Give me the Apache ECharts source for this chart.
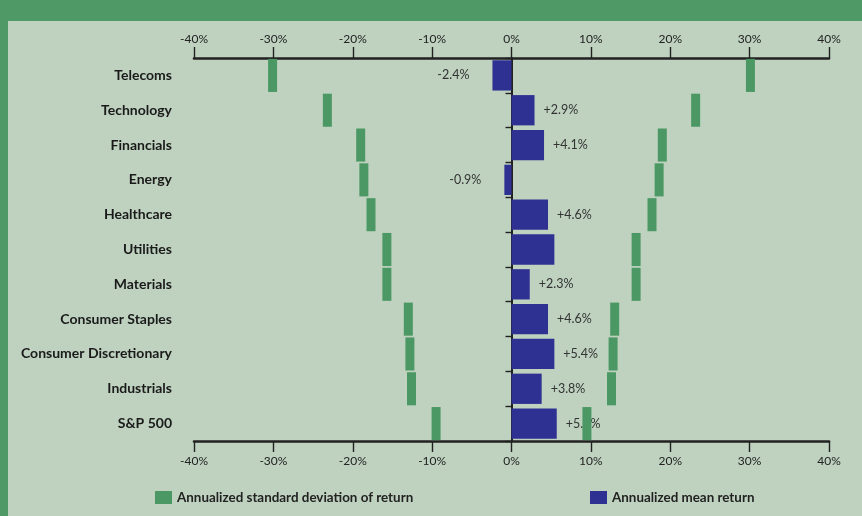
<!DOCTYPE html>
<html>
<head>
<meta charset="utf-8">
<script src="https://cdn.jsdelivr.net/npm/echarts@6/dist/echarts.min.js"></script>
<style>
  html, body { margin: 0; padding: 0; }
  #chart { width: 862px; height: 516px; }
</style>
</head>
<body>
<div id="chart"></div>
<script>
  // sectors, top to bottom
  const sectors = [
    'Telecoms', 'Technology', 'Financials', 'Energy', 'Healthcare', 'Utilities',
    'Materials', 'Consumer Staples', 'Consumer Discretionary', 'Industrials', 'S&P 500'
  ];
  // annualized mean return (%)
  const meanReturn = [-2.4, 2.9, 4.1, -0.9, 4.6, 5.4, 2.3, 4.6, 5.4, 3.8, 5.7];
  // text printed next to each blue bar ('' = none)
  const meanLabels = ['-2.4%', '+2.9%', '+4.1%', '-0.9%', '+4.6%', '', '+2.3%', '+4.6%', '+5.4%', '+3.8%', '+5.7%'];
  // annualized standard deviation of return (%), drawn at -sd and +sd
  const stdDev = [30.1, 23.2, 19.0, 18.6, 17.7, 15.7, 15.7, 13.0, 12.8, 12.6, 9.5];
  const xTicks = [-40, -30, -20, -10, 0, 10, 20, 30, 40];

  const GREEN = '#4c9864';
  const BLUE = '#2e3192';
  const INK = '#222222';

  const chart = echarts.init(document.getElementById('chart'), null, { renderer: 'canvas' });

  const meanData = meanReturn.map((v, i) => ({
    value: v,
    label: {
      show: meanLabels[i] !== '',
      position: v < 0 ? 'left' : 'right',
      distance: v < 0 ? 23 : 9,
      formatter: () => meanLabels[i]
    }
  }));

  const sdData = [];
  stdDev.forEach((v, i) => {
    sdData.push([-v, i]);
    sdData.push([v, i]);
  });

  const xAxisBase = (pos, margin) => ({
    type: 'value',
    position: pos,
    min: xTicks[0],
    max: xTicks[xTicks.length - 1],
    interval: 10,
    axisLine: { show: true, onZero: false, lineStyle: { color: INK, width: 2.6 } },
    axisTick: { show: true, length: 11, lineStyle: { color: INK, width: 1.4 } },
    axisLabel: {
      margin: margin,
      color: INK,
      fontFamily: 'Lato',
      fontSize: 12,
      formatter: v => v + '%'
    },
    splitLine: { show: false }
  });

  const legendText = { color: INK, fontFamily: 'Lato', fontWeight: 'bold', fontSize: 13.4 };

  const option = {
    backgroundColor: '#4f9966',
    animation: false,
    graphic: [{
      type: 'rect',
      z: -10,
      silent: true,
      shape: { x: 8, y: 21, width: 854, height: 495 },
      style: { fill: '#bed2bf' }
    }],
    grid: { left: 194, right: 33, top: 58, bottom: 75 },
    legend: [{
      left: 150, top: 486,
      itemWidth: 17, itemHeight: 13, itemGap: 6,
      data: [{ name: 'Annualized standard deviation of return', icon: 'rect' }],
      textStyle: legendText
    }, {
      left: 585, top: 486,
      itemWidth: 17, itemHeight: 13, itemGap: 6,
      data: [{ name: 'Annualized mean return', icon: 'rect' }],
      textStyle: legendText
    }],
    xAxis: [xAxisBase('top', 13), xAxisBase('bottom', 14)],
    yAxis: [{
      type: 'category',
      inverse: true,
      position: 'left',
      data: sectors,
      axisLine: { show: false, onZero: false },
      axisTick: { show: false },
      axisLabel: {
        margin: 22,
        color: '#1a1a1a',
        fontFamily: 'Lato',
        fontWeight: 'bold',
        fontSize: 14
      }
    }, {
      type: 'category',
      inverse: true,
      position: 'left',
      data: sectors,
      axisLine: { show: true, onZero: true, onZeroAxisIndex: 0, lineStyle: { color: INK, width: 2 } },
      axisTick: { show: true, length: 6, lineStyle: { color: INK, width: 1.4 } },
      axisLabel: { show: false }
    }],
    series: [{
      name: 'Annualized mean return',
      type: 'bar',
      xAxisIndex: 1,
      yAxisIndex: 0,
      z: 2,
      barCategoryGap: '13%',
      itemStyle: { color: BLUE },
      label: {
        color: '#333333',
        fontFamily: 'Lato',
        fontSize: 12.5
      },
      data: meanData
    }, {
      name: 'Annualized standard deviation of return',
      type: 'custom',
      xAxisIndex: 1,
      yAxisIndex: 0,
      z: 5,
      itemStyle: { color: GREEN },
      encode: { x: 0, y: 1 },
      renderItem: function (params, api) {
        const c = api.coord([api.value(0), api.value(1)]);
        const h = api.size([0, 1])[1] * 0.95;
        const w = 9;
        return {
          type: 'rect',
          shape: { x: c[0] - w / 2, y: c[1] - h / 2, width: w, height: h },
          style: { fill: api.visual('color') }
        };
      },
      data: sdData
    }]
  };

  chart.setOption(option);
  window.addEventListener('resize', chart.resize);
</script>
</body>
</html>
